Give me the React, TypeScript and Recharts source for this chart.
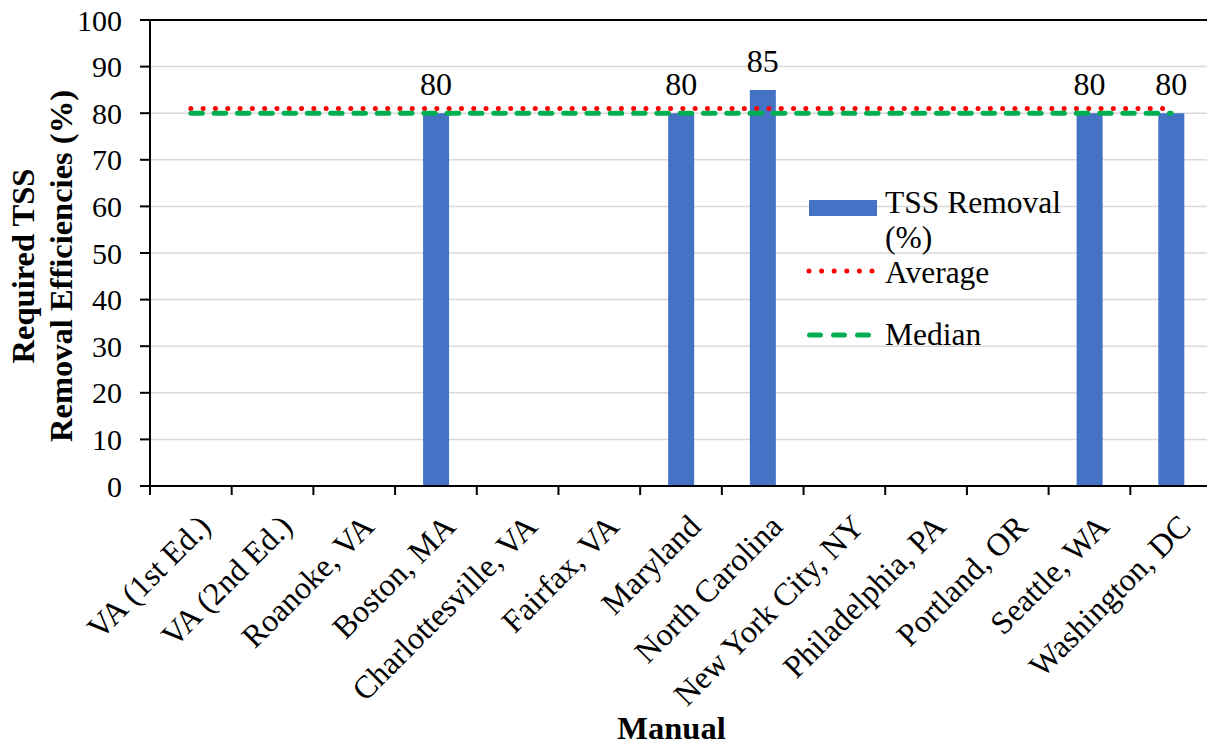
import React from 'react';
import {
  ComposedChart,
  Bar,
  Line,
  XAxis,
  YAxis,
  CartesianGrid,
  Legend,
  LabelList,
  ReferenceLine,
  Label,
} from 'recharts';

// ---- data ----
const manuals = [
  'VA (1st Ed.)',
  'VA (2nd Ed.)',
  'Roanoke, VA',
  'Boston, MA',
  'Charlottesville, VA',
  'Fairfax, VA',
  'Maryland',
  'North Carolina',
  'New York City, NY',
  'Philadelphia, PA',
  'Portland, OR',
  'Seattle, WA',
  'Washington, DC',
];

// Required TSS removal (%) stated by each manual; null = not specified
const tssRemoval: (number | null)[] = [null, null, null, 80, null, null, 80, 85, null, null, null, 80, 80];

const yTicks = [0, 10, 20, 30, 40, 50, 60, 70, 80, 90, 100];

const seriesNames = { tss: 'TSS Removal (%)', average: 'Average', median: 'Median' };

// summary statistics of the stated requirements
const stated = tssRemoval.filter((v): v is number => v !== null);
const tssAverage = stated.reduce((s, v) => s + v, 0) / stated.length;
const sortedStated = [...stated].sort((a, b) => a - b);
const tssMedian =
  sortedStated.length % 2 === 1
    ? sortedStated[(sortedStated.length - 1) / 2]
    : (sortedStated[sortedStated.length / 2 - 1] + sortedStated[sortedStated.length / 2]) / 2;

const chartData = manuals.map((manual, i) => ({
  manual,
  tss: tssRemoval[i],
  average: tssAverage,
  median: tssMedian,
}));

// ---- styling ----
const FONT = "'Liberation Serif', 'Times New Roman', Times, serif";
const BAR_BLUE = '#4472C4';
const AVG_RED = '#FF0000';
const MED_GREEN = '#00B050';

const CHART_W = 1240;
const CHART_H = 747;
const MARGIN = { top: 20, right: 28, bottom: 0, left: 0 };
const Y_AXIS_W = 150;
const X_AXIS_H = 261;
const PLOT_W = CHART_W - MARGIN.left - MARGIN.right - Y_AXIS_W;
const BAND = PLOT_W / manuals.length;

// rotated category label plus the tick mark on the category boundary
const ManualTick = (props: any) => {
  const { x, y, payload } = props;
  const isLast = payload && payload.value === manuals[manuals.length - 1];
  return (
    <g>
      <line x1={x - BAND / 2} x2={x - BAND / 2} y1={y} y2={y + 9} stroke="#000" strokeWidth={2} />
      {isLast && (
        <line x1={x + BAND / 2} x2={x + BAND / 2} y1={y} y2={y + 9} stroke="#000" strokeWidth={2} />
      )}
      <text
        transform={`translate(${x + 21.5},${y + 42.5}) rotate(-45)`}
        textAnchor="end"
        fontSize={32}
        fontFamily={FONT}
        fill="#000"
      >
        {payload.value}
      </text>
    </g>
  );
};

const BarValueLabel = (props: any) => {
  const { x, y, width, value } = props;
  if (value === null || value === undefined) return null;
  return (
    <text
      x={Number(x) + Number(width) / 2}
      y={Number(y) - 18}
      textAnchor="middle"
      fontSize={32}
      fontFamily={FONT}
      fill="#000"
    >
      {value}
    </text>
  );
};

const YTitle = (props: any) => {
  const vb = props.viewBox || { x: 0, y: MARGIN.top, width: Y_AXIS_W, height: 466 };
  const cy = vb.y + vb.height / 2 + 13;
  const common = {
    textAnchor: 'middle' as const,
    fontSize: 32.5,
    fontWeight: 700,
    fontFamily: FONT,
    fill: '#000',
  };
  return (
    <g>
      <text {...common} x={34} y={cy} transform={`rotate(-90, 34, ${cy})`}>
        Required TSS
      </text>
      <text {...common} x={71.5} y={cy} transform={`rotate(-90, 71.5, ${cy})`}>
        Removal Efficiencies (%)
      </text>
    </g>
  );
};

const XTitle = (props: any) => {
  const vb = props.viewBox || { x: Y_AXIS_W, y: 486, width: PLOT_W, height: X_AXIS_H };
  return (
    <text
      x={vb.x + vb.width / 2 - 9.5}
      y={vb.y + 253}
      textAnchor="middle"
      fontSize={32.5}
      fontWeight={700}
      fontFamily={FONT}
      fill="#000"
    >
      Manual
    </text>
  );
};

const TssLegend = () => {
  const txt = { fontSize: 31.5, fontFamily: FONT, fill: '#000' };
  return (
    <svg width={300} height={180} style={{ display: 'block', overflow: 'visible' }}>
      <rect x={9} y={20} width={68} height={16} fill={BAR_BLUE} />
      <text {...txt} x={85} y={33}>
        {seriesNames.tss.replace(' (%)', '')}
      </text>
      <text {...txt} x={85} y={68}>
        (%)
      </text>
      <line
        x1={9}
        x2={73}
        y1={91}
        y2={91}
        stroke={AVG_RED}
        strokeWidth={5}
        strokeDasharray="0 12.6"
        strokeLinecap="round"
      />
      <text {...txt} x={85} y={103}>
        {seriesNames.average}
      </text>
      <line
        x1={9.5}
        x2={70}
        y1={155}
        y2={155}
        stroke={MED_GREEN}
        strokeWidth={5}
        strokeDasharray="11 13"
        strokeLinecap="round"
      />
      <text {...txt} x={85} y={165}>
        {seriesNames.median}
      </text>
    </svg>
  );
};

export default function App() {
  return (
    <div
      style={{
        position: 'fixed',
        left: 0,
        top: 0,
        width: 1207,
        height: 747,
        overflow: 'hidden',
        background: '#fff',
      }}
    >
      <ComposedChart width={CHART_W} height={CHART_H} data={chartData} margin={MARGIN}>
        <CartesianGrid vertical={false} stroke="#d9d9d9" strokeWidth={1.5} />
        <XAxis
          dataKey="manual"
          height={X_AXIS_H}
          interval={0}
          axisLine={{ stroke: '#000', strokeWidth: 2 }}
          tickLine={false}
          tickSize={0}
          tickMargin={0}
          tick={<ManualTick />}
        >
          <Label content={<XTitle />} />
        </XAxis>
        <YAxis
          width={Y_AXIS_W}
          domain={[0, 100]}
          ticks={yTicks}
          interval={0}
          axisLine={{ stroke: '#000', strokeWidth: 2 }}
          tickLine={{ stroke: '#000', strokeWidth: 2 }}
          tickSize={10}
          tickMargin={18}
          tick={{ fill: '#000', fontSize: 30, fontFamily: FONT }}
        >
          <Label content={<YTitle />} />
        </YAxis>
        <ReferenceLine y={100} stroke="#000" strokeWidth={2} />
        <Bar dataKey="tss" name={seriesNames.tss} fill={BAR_BLUE} barSize={26} isAnimationActive={false}>
          <LabelList dataKey="tss" content={<BarValueLabel />} />
        </Bar>
        <Line
          dataKey="average"
          name={seriesNames.average}
          stroke={AVG_RED}
          strokeWidth={5}
          strokeDasharray="0 12.3"
          strokeLinecap="round"
          dot={false}
          activeDot={false}
          isAnimationActive={false}
        />
        <Line
          dataKey="median"
          name={seriesNames.median}
          stroke={MED_GREEN}
          strokeWidth={5}
          strokeDasharray="11.5 11.8"
          strokeLinecap="round"
          dot={false}
          activeDot={false}
          isAnimationActive={false}
        />
        <Legend
          layout="vertical"
          align="center"
          verticalAlign="middle"
          wrapperStyle={{ left: 800, top: 180, width: 300, height: 180 }}
          content={<TssLegend />}
        />
      </ComposedChart>
    </div>
  );
}
